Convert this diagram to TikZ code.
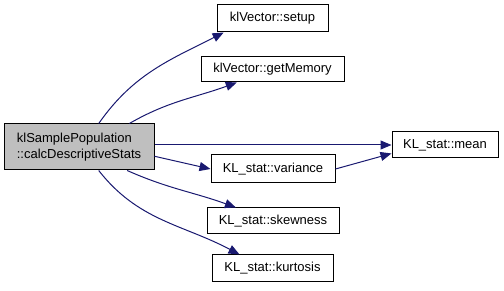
\documentclass[tikz,border=0pt]{standalone}
\usepackage{fontspec}
\setmainfont{Liberation Sans}
\usetikzlibrary{arrows.meta}

\definecolor{edgeblue}{HTML}{191970}
\definecolor{curgray}{HTML}{BFBFBF}

\tikzset{
  fn/.style={draw=black, fill=white, line width=1pt, inner sep=0pt,
    font=\fontsize{13}{16}\selectfont},
  call/.style={draw=edgeblue, line width=1pt,
    -{Triangle[length=11pt,width=9pt,fill=edgeblue]}}
}

\begin{document}
\begin{tikzpicture}[x=1pt,y=-1pt]

  \useasboundingbox (0,0) rectangle (504,291);

  \node[fn, fill=curgray, minimum width=150pt, minimum height=46pt, align=left]
    (calc) at (79,147) {klSamplePopulation\\::calcDescriptiveStats};

  \node[fn, minimum width=111pt, minimum height=27pt] (setup) at (272.5,18.5) {klVector::setup};
  \node[fn, minimum width=143pt, minimum height=25pt] (getmem) at (272.5,69.5) {klVector::getMemory};
  \node[fn, minimum width=106pt, minimum height=26pt] (mean) at (445,145) {KL\_stat::mean};
  \node[fn, minimum width=124pt, minimum height=28pt] (variance) at (273,169) {KL\_stat::variance};
  \node[fn, minimum width=132pt, minimum height=26pt] (skew) at (273,221) {KL\_stat::skewness};
  \node[fn, minimum width=121pt, minimum height=27pt] (kurt) at (272.5,268.5) {KL\_stat::kurtosis};

  % calls
  \draw[call] (calc.50) to[out=55, in=207] (setup.196);
  \draw[call] (calc.25) to[out=30, in=200] (getmem.200);
  \draw[call] (calc.east |- mean.west) -- (mean.west);
  \draw[call] (calc.-7) -- (variance.west);
  \draw[call] (variance.east) -- (mean.189);
  \draw[call] (calc.-26) to[out=-24, in=160] (skew.160);
  \draw[call] (calc.-50) to[out=-52, in=152] (kurt.157);

\end{tikzpicture}
\end{document}
